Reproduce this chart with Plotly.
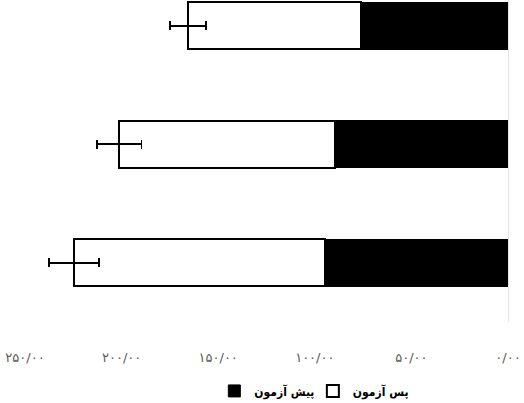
import plotly.graph_objects as go

# groups listed bottom to top
groups = ['گروه ۱', 'گروه ۲', 'گروه ۳']
pre_test = [94.7, 89.5, 76.1]
post_test = [129.9, 111.8, 89.5]
post_err = [12.9, 11.6, 9.3]

tick_vals = [0, 50, 100, 150, 200, 250]
tick_text = ['۰/۰۰', '۵۰/۰۰', '۱۰۰/۰۰', '۱۵۰/۰۰', '۲۰۰/۰۰', '۲۵۰/۰۰']

fig = go.Figure()

# pre-test (black, from zero)
fig.add_trace(go.Bar(
    y=groups,
    x=pre_test,
    orientation='h',
    name='پیش آزمون',
    legend='legend',
    showlegend=True,
    marker=dict(color='black', line=dict(color='black', width=1))
))

# post-test stacked on top, with error bars
fig.add_trace(go.Bar(
    y=groups,
    x=post_test,
    orientation='h',
    name='پس آزمون',
    legend='legend2',
    showlegend=True,
    marker=dict(color='white', line=dict(color='black', width=2)),
    error_x=dict(type='data', array=post_err, color='black', thickness=1.8, width=4.5)
))

legend_style = dict(
    orientation='h',
    xanchor='left',
    yref='container',
    y=0.03,
    yanchor='middle',
    font=dict(family='DejaVu Sans Condensed', size=12, color='black', weight='bold'),
    bgcolor='rgba(0,0,0,0)'
)

fig.update_layout(
    barmode='stack',
    bargap=0.6,
    width=524,
    height=403,
    showlegend=True,
    margin=dict(l=25, r=16, t=0, b=81, autoexpand=False),
    plot_bgcolor='white',
    paper_bgcolor='white',
    font=dict(family='DejaVu Sans', color='black'),
    xaxis=dict(
        range=[250, 0],
        tickvals=tick_vals,
        ticktext=tick_text,
        showgrid=False,
        zeroline=False,
        showline=False,
        ticks='',
        ticklabelstandoff=26,
        tickfont=dict(size=13, color='#595959')
    ),
    yaxis=dict(
        range=[-0.5, 2.217],
        side='right',
        showticklabels=False,
        showgrid=False,
        zeroline=False,
        showline=True,
        linecolor='#e6e6e6',
        linewidth=1
    ),
    legend=dict(x=0.392, **legend_style),
    legend2=dict(x=0.596, **legend_style)
)

# drop the page's default body margin so the figure sits at the corner
fig.write_html("out.html", config={'displayModeBar': False},
               post_script="document.body.style.margin='0';")
